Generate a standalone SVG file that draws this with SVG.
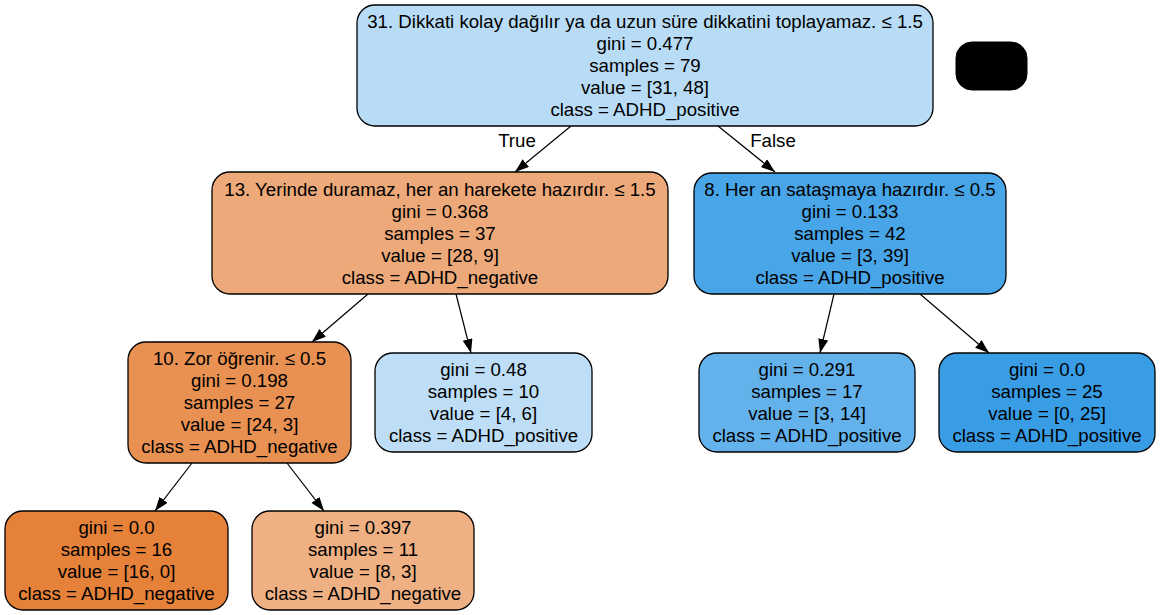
<svg xmlns="http://www.w3.org/2000/svg" width="1161" height="615" viewBox="0 0 1161 615">
<style>
.box{stroke:#000;stroke-width:1.3}
text{font-family:"Liberation Sans",Arial,sans-serif;font-size:18.67px;fill:#000;text-anchor:middle}
.edge{stroke:#000;stroke-width:1.2;fill:none;marker-end:url(#arr)}
</style>
<defs>
<marker id="arr" markerUnits="userSpaceOnUse" markerWidth="16" markerHeight="12" refX="14" refY="5" orient="auto">
<path d="M0,0 L14,5 L0,10 Z" fill="#000"/>
</marker>
</defs>
<rect width="1161" height="615" fill="#fff"/>
<g id="connectors">
<line class="edge" x1="571" y1="126" x2="515" y2="172"/>
<line class="edge" x1="718" y1="126" x2="775" y2="172"/>
<line class="edge" x1="368" y1="294" x2="312" y2="342"/>
<line class="edge" x1="456" y1="294" x2="471" y2="353"/>
<line class="edge" x1="834" y1="294" x2="820" y2="353"/>
<line class="edge" x1="920" y1="294" x2="989" y2="353"/>
<line class="edge" x1="192" y1="463" x2="155" y2="511"/>
<line class="edge" x1="287" y1="463" x2="324" y2="511"/>
<text x="517" y="147">True</text>
<text x="773" y="147">False</text>
</g>
<g id="node0">
<rect class="box" x="357" y="5" width="576" height="121" rx="18" fill="#b9dcf6"/>
<text x="645" y="28">31. Dikkati kolay dağılır ya da uzun süre dikkatini toplayamaz. ≤ 1.5</text>
<text x="645" y="50">gini = 0.477</text>
<text x="645" y="72">samples = 79</text>
<text x="645" y="94">value = [31, 48]</text>
<text x="645" y="116">class = ADHD_positive</text>
</g>
<g id="legend">
<rect x="956" y="42" width="71" height="48" rx="16" fill="#000" stroke="#000"/>
</g>
<g id="node1">
<rect class="box" x="212" y="172" width="456" height="122" rx="18" fill="#eda979"/>
<text x="440" y="196">13. Yerinde duramaz, her an harekete hazırdır. ≤ 1.5</text>
<text x="440" y="218">gini = 0.368</text>
<text x="440" y="240">samples = 37</text>
<text x="440" y="262">value = [28, 9]</text>
<text x="440" y="284">class = ADHD_negative</text>
</g>
<g id="node2">
<rect class="box" x="694" y="173" width="312" height="121" rx="18" fill="#48a5e7"/>
<text x="850" y="196">8. Her an sataşmaya hazırdır. ≤ 0.5</text>
<text x="850" y="218">gini = 0.133</text>
<text x="850" y="240">samples = 42</text>
<text x="850" y="262">value = [3, 39]</text>
<text x="850" y="284">class = ADHD_positive</text>
</g>
<g id="node3">
<rect class="box" x="128" y="342" width="223" height="121" rx="18" fill="#e89152"/>
<text x="239.5" y="365">10. Zor öğrenir. ≤ 0.5</text>
<text x="239.5" y="387">gini = 0.198</text>
<text x="239.5" y="409">samples = 27</text>
<text x="239.5" y="431">value = [24, 3]</text>
<text x="239.5" y="453">class = ADHD_negative</text>
</g>
<g id="node4">
<rect class="box" x="375" y="353" width="217" height="99" rx="18" fill="#bddef6"/>
<text x="483.5" y="376">gini = 0.48</text>
<text x="483.5" y="398">samples = 10</text>
<text x="483.5" y="420">value = [4, 6]</text>
<text x="483.5" y="442">class = ADHD_positive</text>
</g>
<g id="node5">
<rect class="box" x="699" y="353" width="216" height="99" rx="18" fill="#63b2eb"/>
<text x="807" y="376">gini = 0.291</text>
<text x="807" y="398">samples = 17</text>
<text x="807" y="420">value = [3, 14]</text>
<text x="807" y="442">class = ADHD_positive</text>
</g>
<g id="node6">
<rect class="box" x="939" y="353" width="216" height="99" rx="18" fill="#399de5"/>
<text x="1047" y="376">gini = 0.0</text>
<text x="1047" y="398">samples = 25</text>
<text x="1047" y="420">value = [0, 25]</text>
<text x="1047" y="442">class = ADHD_positive</text>
</g>
<g id="node7">
<rect class="box" x="5" y="511" width="223" height="99" rx="18" fill="#e58139"/>
<text x="116.5" y="534">gini = 0.0</text>
<text x="116.5" y="556">samples = 16</text>
<text x="116.5" y="578">value = [16, 0]</text>
<text x="116.5" y="600">class = ADHD_negative</text>
</g>
<g id="node8">
<rect class="box" x="252" y="511" width="222" height="99" rx="18" fill="#efb083"/>
<text x="363" y="534">gini = 0.397</text>
<text x="363" y="556">samples = 11</text>
<text x="363" y="578">value = [8, 3]</text>
<text x="363" y="600">class = ADHD_negative</text>
</g>
</svg>
